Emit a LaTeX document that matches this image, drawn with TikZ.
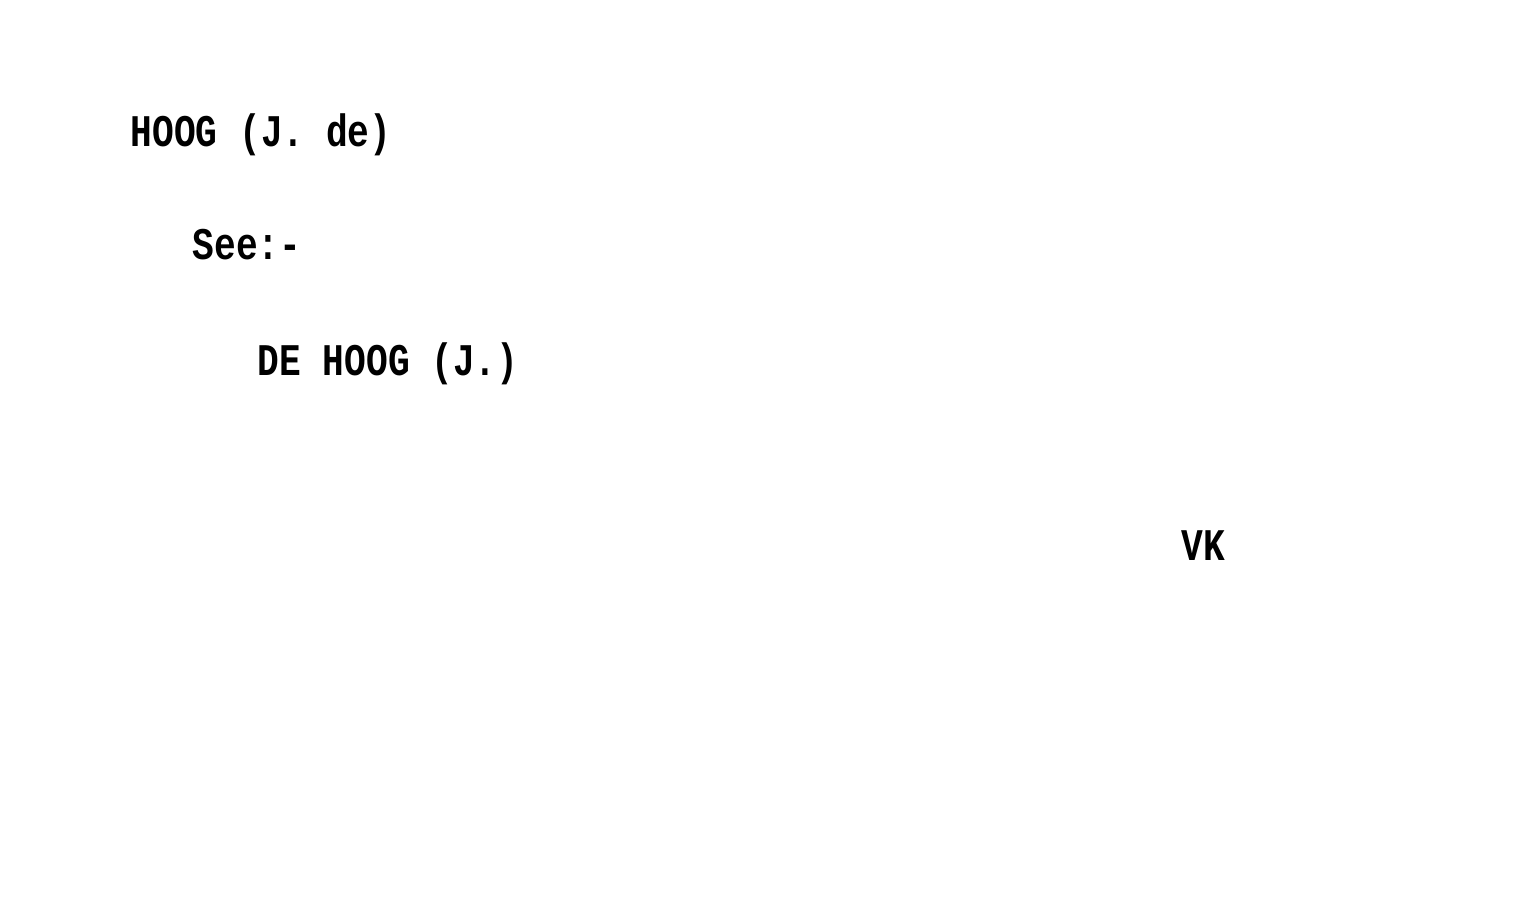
\documentclass[tikz,border=0pt]{standalone}
\usepackage{fontspec}
\setmonofont{Liberation Mono}
\begin{document}
\begin{tikzpicture}[x=1cm,y=1cm,
  card/.style={anchor=base west, inner sep=0pt, font=\ttfamily\bfseries\fontsize{10.3}{12}\selectfont, yscale=1.25, transform shape}]
\useasboundingbox[fill=white] (0,0) rectangle (15.21,9.18);
\node[card] (head) at (1.30,7.71) {HOOG (J. de)};
\node[card] (see) at (1.92,6.58) {See:-};
\node[card] (ref) at (2.57,5.42) {DE HOOG (J.)};
\node[card] (vk) at (11.81,3.57) {VK};
\end{tikzpicture}
\end{document}
